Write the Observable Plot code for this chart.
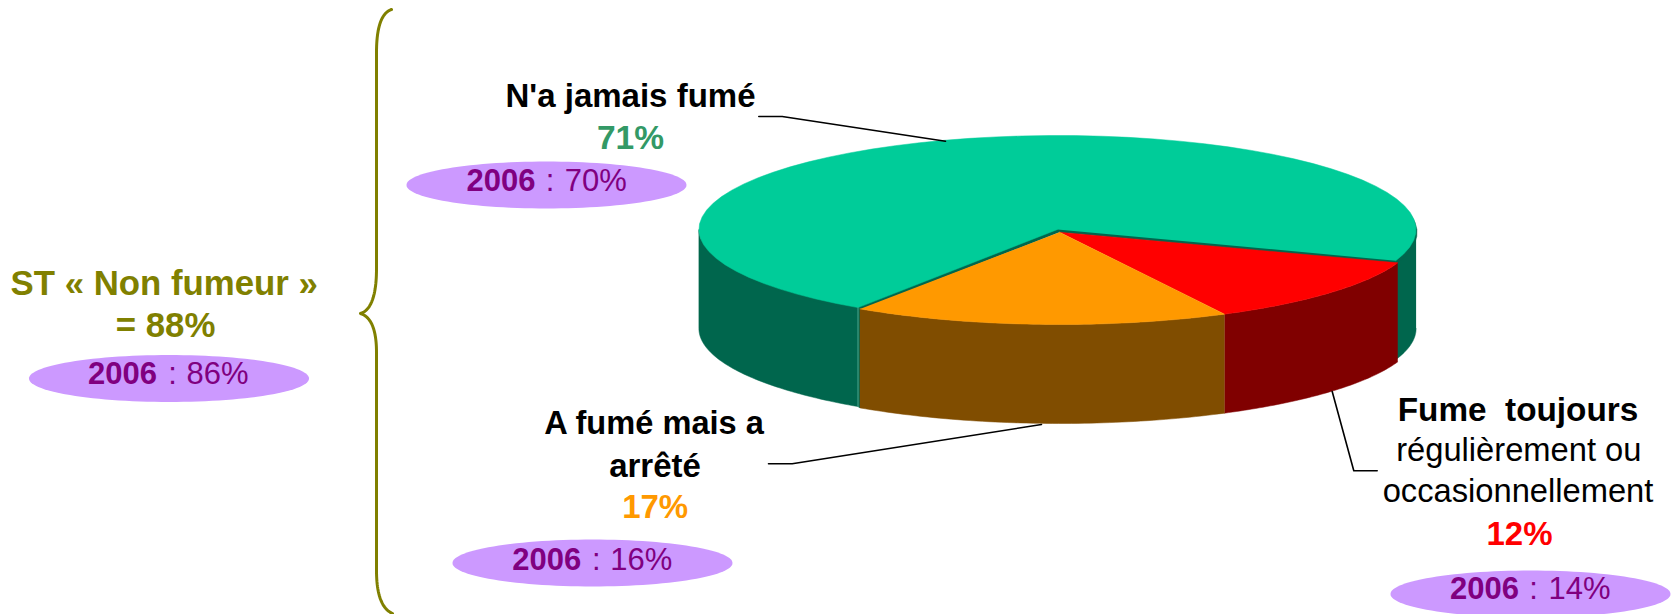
<!DOCTYPE html>
<html lang="fr">
<head>
<meta charset="utf-8">
<style>
  html, body { margin: 0; padding: 0; background: #fff; }
  svg { display: block; }
</style>
<script src="https://cdn.jsdelivr.net/npm/d3@7"></script>
<script src="https://cdn.jsdelivr.net/npm/@observablehq/plot@0.6"></script>
</head>
<body>
<div id="chart"></div>
<script>
// ---- Data ----
const segments = ["Fume toujours", "A fumé mais a arrêté", "N'a jamais fumé"];
const shares = [12, 17, 71];
const shares2006 = [14, 16, 70];
const subtotal = 88;
const subtotal2006 = 86;

// ---- Styles ----
const topColors = ["#FF0000", "#FF9900", "#00CC99"];
const wallColors = ["#800000", "#804D00", "#00664D"];
const shareColors = ["#FF0000", "#FF9900", "#339966"];
const OLIVE = "#808000", PURPLE = "#800080", LILAC = "#CC99FF";

// ---- Layout (picture units) ----
const W = 1673, H = 614;
const pie = {startDeg: 109.4, rx: 358.6, depth: 99};
const centers = [{x: 1059, y: 231.7, ry: 92.3}, {x: 1059, y: 231.7, ry: 92.3}, {x: 1057, y: 229, ry: 94}];
const stripOffset = {x: 1, y: 3};
const bubbleCenters = [[168.5, 378], [546, 184.5], [592, 562.5], [1530, 593.5]];
const bubbleRadii = [140, 23.5];
const leaders = [
  [[758.3, 116], [781.7, 116], [945, 140.7]],
  [[768, 463.3], [791.7, 463.3], [1041, 424]],
  [[1331.7, 391], [1353.3, 470.3], [1376.7, 470.3]]
];
const braceSegments = [
  [[391, 9], [376, 14], [376, 52]],
  [[376, 52], [376, 160], [376, 268]],
  [[376, 268], [376, 308], [360, 313]],
  [[360, 313], [376, 318], [376, 352]],
  [[376, 352], [376, 460], [376, 570]],
  [[376, 570], [376, 606], [392, 613]]
];

const fmt = v => `${v}%`;
const boldRows = [
  {text: segments[2], x: 630, y: 106.7, size: 33, fill: "#000"},
  {text: fmt(shares[2]), x: 630, y: 148, size: 33.5, fill: shareColors[2]},
  {text: "2006", x: 500.5, y: 190.7, size: 31, fill: PURPLE},
  {text: "ST\u00a0« Non fumeur »", x: 163.7, y: 294, size: 34.8, fill: OLIVE},
  {text: `= ${subtotal}%`, x: 165, y: 336.7, size: 34.8, fill: OLIVE},
  {text: "2006", x: 122, y: 383, size: 31, fill: PURPLE},
  {text: "A fumé mais a", x: 653.5, y: 433, size: 32.6, fill: "#000"},
  {text: "arrêté", x: 654.5, y: 476, size: 33, fill: "#000"},
  {text: fmt(shares[1]), x: 654.7, y: 517.3, size: 33, fill: shareColors[1]},
  {text: "2006", x: 546.3, y: 569, size: 31, fill: PURPLE},
  {text: "Fume\u00a0\u00a0toujours", x: 1517.5, y: 420, size: 33.3, fill: "#000"},
  {text: fmt(shares[0]), x: 1519, y: 544, size: 33, fill: shareColors[0]},
  {text: "2006", x: 1484, y: 598, size: 31, fill: PURPLE}
];
const regularRows = [
  {text: ":", x: 549.6, y: 190.7, size: 31, fill: PURPLE},
  {text: fmt(shares2006[2]), x: 595.3, y: 190.7, size: 31, fill: PURPLE},
  {text: ":", x: 172, y: 383, size: 31, fill: PURPLE},
  {text: fmt(subtotal2006), x: 217, y: 383, size: 31, fill: PURPLE},
  {text: ":", x: 595.7, y: 569, size: 31, fill: PURPLE},
  {text: fmt(shares2006[1]), x: 640.8, y: 569, size: 31, fill: PURPLE},
  {text: "régulièrement ou", x: 1518.3, y: 460, size: 32.7, fill: "#000"},
  {text: "occasionnellement", x: 1517.5, y: 501.7, size: 32.7, fill: "#000"},
  {text: ":", x: 1533, y: 598, size: 31, fill: PURPLE},
  {text: fmt(shares2006[0]), x: 1579, y: 598, size: 31, fill: PURPLE}
];

// ---- Geometry derived from the values ----
const rad = Math.PI / 180;
const arcs = d3.pie().sort(null).startAngle(pie.startDeg * rad).endAngle((pie.startDeg + 360) * rad)(shares);
const onRim = (c, a, dy = 0) => ({x: c.x + pie.rx * Math.sin(a), y: c.y - c.ry * Math.cos(a) + dy});
const sweep = (a0, a1) => d3.range(0, 61).map(k => a0 + (a1 - a0) * k / 60);

function topOf(arc, c, dx = 0, dy = 0) {
  const shifted = {...c, x: c.x + dx, y: c.y + dy};
  return [{x: shifted.x, y: shifted.y}, ...sweep(arc.startAngle, arc.endAngle).map(a => onRim(shifted, a))];
}
// The part of a slice's rim facing the viewer (between 90° and 270°, clockwise from north).
function wallsOf(arc, c) {
  const out = [];
  for (const turn of [0, 360]) {
    const a0 = Math.max(arc.startAngle, (90 + turn) * rad);
    const a1 = Math.min(arc.endAngle, (270 + turn) * rad);
    if (a1 > a0) {
      const angles = sweep(a0, a1);
      out.push([...angles.map(a => onRim(c, a)), ...angles.reverse().map(a => onRim(c, a, pie.depth))]);
    }
  }
  return out;
}

const polygons = [];
const add = (pts, color) => polygons.push({pts, color});
// Back-most green: its walls, then the two front slices' walls.
wallsOf(arcs[2], centers[2]).forEach(p => add(p, wallColors[2]));
// Inner face of the green slice, seen through the gap at its left cut.
const gE = onRim(centers[2], arcs[2].startAngle);
const oE = onRim(centers[1], arcs[1].endAngle);
add([gE, oE, {x: oE.x, y: oE.y + pie.depth}, {x: gE.x, y: gE.y + pie.depth}], wallColors[2]);
add(topOf(arcs[2], centers[2], stripOffset.x, stripOffset.y), wallColors[2]);
wallsOf(arcs[0], centers[0]).forEach(p => add(p, wallColors[0]));
wallsOf(arcs[1], centers[1]).forEach(p => add(p, wallColors[1]));
add(topOf(arcs[2], centers[2]), topColors[2]);
add(topOf(arcs[0], centers[0]), topColors[0]);
add(topOf(arcs[1], centers[1]), topColors[1]);

const bubble = ([cx, cy]) => d3.range(0, 121).map(k => ({
  x: cx + bubbleRadii[0] * Math.cos(k * 3 * rad),
  y: cy + bubbleRadii[1] * Math.sin(k * 3 * rad)
}));
const braceLine = braceSegments.flatMap(([p0, p1, p2]) => d3.range(0, 25).map(k => {
  const t = k / 24, u = 1 - t;
  return {x: u*u*p0[0] + 2*u*t*p1[0] + t*t*p2[0], y: u*u*p0[1] + 2*u*t*p1[1] + t*t*p2[1]};
}));
const asXY = ([x, y]) => ({x, y});

const textMark = (rows, weight) => Plot.text(rows, {
  x: "x", y: "y", text: "text", fill: "fill", fontSize: "size", fontWeight: weight,
  textAnchor: "middle", lineAnchor: "bottom", fontFamily: "Liberation Sans"
});

const chart = Plot.plot({
  width: W, height: H, margin: 0,
  x: {type: "linear", domain: [0, W], range: [0, W], axis: null},
  y: {type: "linear", domain: [0, H], range: [0, H], axis: null},
  style: {background: "#fff", fontFamily: "Liberation Sans"},
  marks: [
    Plot.line(braceLine, {x: "x", y: "y", stroke: OLIVE, strokeWidth: 3, strokeLinejoin: "round"}),
    ...polygons.map(p => Plot.line(p.pts, {x: "x", y: "y", fill: p.color, stroke: p.color, strokeWidth: 0.5})),
    Plot.line([{x: gE.x, y: gE.y}, {x: gE.x, y: gE.y + pie.depth}], {x: "x", y: "y", stroke: "#4DA58E", strokeWidth: 1}),
    ...leaders.map(l => Plot.line(l.map(asXY), {x: "x", y: "y", stroke: "#000", strokeWidth: 1.6})),
    ...bubbleCenters.map(c => Plot.line(bubble(c), {x: "x", y: "y", fill: LILAC, stroke: "none"})),
    textMark(boldRows, "bold"),
    textMark(regularRows, "normal")
  ]
});
document.getElementById("chart").append(chart);
</script>
</body>
</html>
